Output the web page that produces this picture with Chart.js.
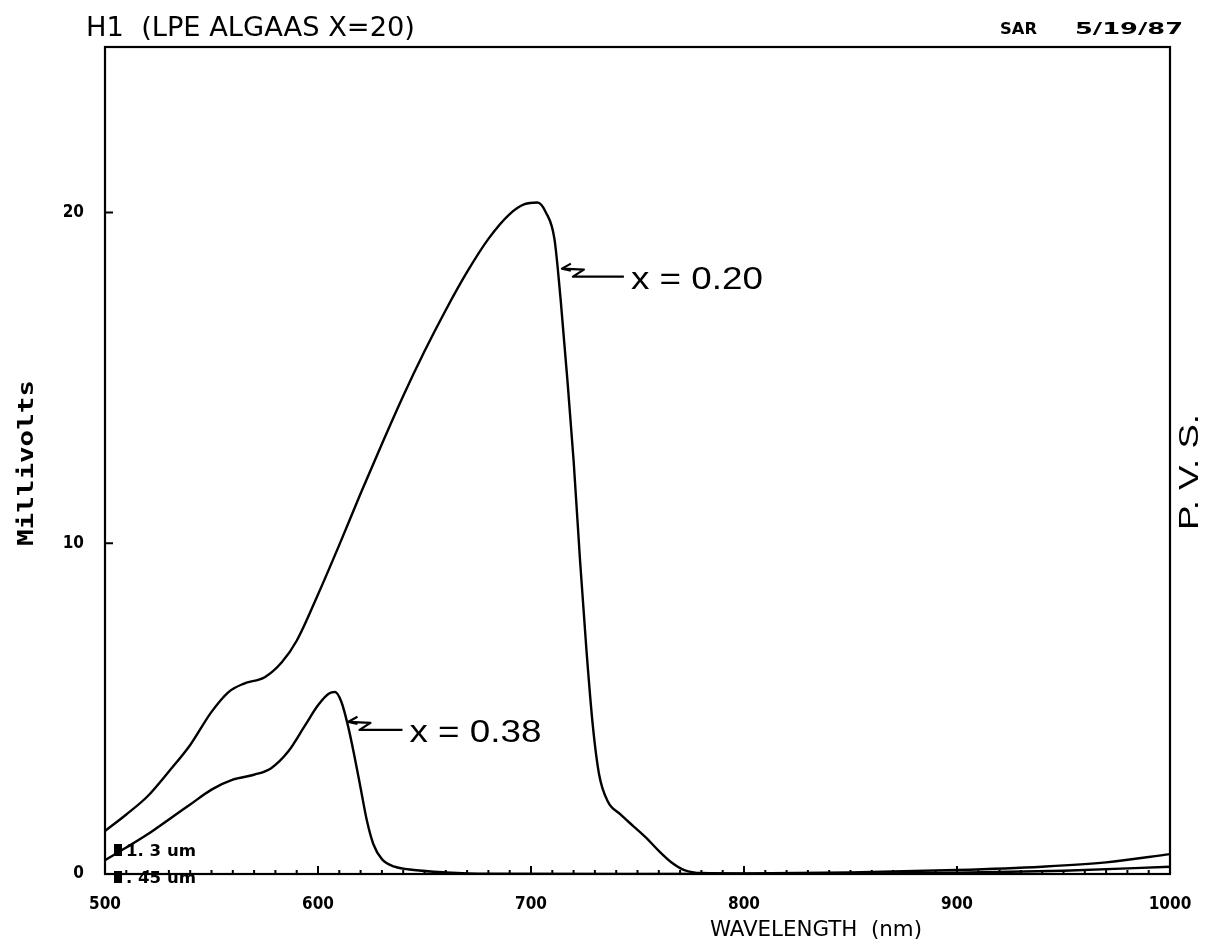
<!DOCTYPE html>
<html>
<head>
<meta charset="utf-8">
<title>H1 (LPE ALGAAS X=20)</title>
<script src="https://cdn.jsdelivr.net/npm/chart.js@4.4.1/dist/chart.umd.min.js"></script>
<style>
  body { margin: 0; background: #fff; }
  canvas { display: block; }
</style>
</head>
<body>
<canvas id="pvsChart" width="1205" height="946"></canvas>
<script>
// photovoltage spectra, x = 0.20 sample
const wavelengths020 = [500, 510, 520, 530, 540, 550, 558, 565, 575, 583, 590, 600, 610, 620, 630, 640, 650, 660, 670, 680, 690, 697, 703, 707, 711, 714, 717, 720, 723, 726, 729, 732, 736, 742, 748, 754, 760, 766, 772, 780, 800, 850, 900, 940, 970, 1000];
const millivolts020 = [1.3, 1.8, 2.35, 3.1, 3.9, 4.9, 5.5, 5.75, 5.95, 6.4, 7.05, 8.45, 9.95, 11.5, 13.0, 14.45, 15.8, 17.05, 18.2, 19.2, 19.95, 20.25, 20.3, 20.0, 19.2, 17.3, 15.0, 12.5, 9.5, 6.8, 4.5, 3.0, 2.2, 1.8, 1.45, 1.1, 0.7, 0.35, 0.12, 0.03, 0.02, 0.05, 0.12, 0.22, 0.35, 0.6];

// x = 0.38 sample
const wavelengths038 = [500, 510, 520, 530, 540, 550, 560, 570, 578, 586, 594, 600, 605, 608, 611, 614, 617, 620, 623, 626, 630, 636, 645, 660, 680, 750, 850, 900, 950, 1000];
const millivolts038 = [0.42, 0.8, 1.2, 1.65, 2.1, 2.55, 2.85, 3.0, 3.2, 3.7, 4.5, 5.1, 5.45, 5.5, 5.2, 4.5, 3.6, 2.6, 1.6, 0.9, 0.45, 0.22, 0.12, 0.05, 0.01, 0, 0.01, 0.04, 0.1, 0.22];

const seriesLabels = ['x = 0.20', 'x = 0.38'];
const keyLabels = ['1. 3 um', '. 45 um'];
const xTicks = [500, 600, 700, 800, 900, 1000];
const yTicks = [0, 10, 20];

const toPoints = (xs, ys) => xs.map((x, i) => ({ x: x, y: ys[i] }));

const plotFont = "'DejaVu Sans Condensed', 'Liberation Sans Narrow', 'DejaVu Sans', sans-serif";

// text squeezed to a given width, like the plotter lettering
function fitText(ctx, text, x, y, width, font, align) {
  ctx.save();
  ctx.font = font;
  let w = ctx.measureText(text).width;
  ctx.translate(x, y);
  ctx.scale(width / w, 1);
  ctx.textAlign = align || 'left';
  ctx.fillText(text, 0, 0);
  ctx.restore();
}

// same, turned to run up the page
function fitTextUp(ctx, text, cx, cy, length, font) {
  ctx.save();
  ctx.translate(cx, cy);
  ctx.rotate(-Math.PI / 2);
  fitText(ctx, text, -length / 2, 0, length, font);
  ctx.restore();
}

// squiggly arrow from a label back to its curve
function squiggle(ctx, tipX, tipY, len) {
  ctx.save();
  ctx.strokeStyle = '#000';
  ctx.lineWidth = 2.2;
  ctx.lineJoin = 'round';
  ctx.beginPath();
  ctx.moveTo(tipX + 9, tipY - 5);
  ctx.lineTo(tipX, tipY);
  ctx.lineTo(tipX + 9, tipY + 2);
  ctx.moveTo(tipX, tipY);
  ctx.lineTo(tipX + 22, tipY + 1);
  ctx.lineTo(tipX + 11, tipY + 8);
  ctx.lineTo(tipX + 28, tipY + 8);
  ctx.lineTo(tipX + len, tipY + 8);
  ctx.stroke();
  ctx.restore();
}

const framePlugin = {
  id: 'frame',
  afterDraw(chart) {
    const ctx = chart.ctx;
    const a = chart.chartArea;
    const xs = chart.scales.x;
    const ys = chart.scales.y;
    ctx.save();
    ctx.strokeStyle = '#000';
    ctx.fillStyle = '#000';
    ctx.lineWidth = 2.2;
    ctx.strokeRect(a.left, a.top, a.right - a.left, a.bottom - a.top);

    // inward ticks along both axes
    ctx.lineWidth = 2;
    ctx.beginPath();
    for (let v = 500; v <= 1000; v += 10) {
      let px = xs.getPixelForValue(v);
      let len = v % 100 === 0 ? 8 : 4;
      ctx.moveTo(px, a.bottom);
      ctx.lineTo(px, a.bottom - len);
    }
    yTicks.forEach(v => {
      let py = ys.getPixelForValue(v);
      ctx.moveTo(a.left, py);
      ctx.lineTo(a.left + 8, py);
    });
    ctx.stroke();

    // heading
    fitText(ctx, 'H1  (LPE ALGAAS X=20)', 86, 36, 329, '27px ' + plotFont);
    fitText(ctx, 'SAR', 1000, 34, 37, 'bold 16px ' + plotFont);
    fitText(ctx, '5/19/87', 1075, 34, 108, 'bold 16px ' + plotFont);

    // axis titles
    fitText(ctx, 'WAVELENGTH  (nm)', 710, 936, 212, '22px ' + plotFont);
    fitTextUp(ctx, 'Millivolts', 33, 463, 166, "bold 21px 'DejaVu Sans Mono', monospace");
    fitTextUp(ctx, 'P. V. S.', 1198, 472, 116, "28px 'Liberation Sans', Arial, sans-serif");

    // small key in the lower left corner
    keyLabels.forEach((t, i) => {
      let y = 856 + i * 27;
      ctx.fillRect(a.left + 9, y - 12, 8, 12);
      fitText(ctx, t, a.left + 21, y, 70, 'bold 15px ' + plotFont);
    });

    // curve labels with arrows
    const notes = [
      { text: seriesLabels[0], x: 714.5, y: 18.3, len: 62 },
      { text: seriesLabels[1], x: 614.3, y: 4.6, len: 54 }
    ];
    notes.forEach(n => {
      let tipX = xs.getPixelForValue(n.x);
      let tipY = ys.getPixelForValue(n.y);
      squiggle(ctx, tipX, tipY, n.len);
      ctx.textBaseline = 'middle';
      fitText(ctx, n.text, tipX + n.len + 7, tipY + 12, 132, "31px 'Liberation Sans', Arial, sans-serif");
      ctx.textBaseline = 'alphabetic';
    });
    ctx.restore();
  }
};

new Chart(document.getElementById('pvsChart'), {
  type: 'line',
  data: {
    datasets: [
      {
        label: seriesLabels[0],
        data: toPoints(wavelengths020, millivolts020),
        borderColor: '#000',
        borderWidth: 2.4,
        pointRadius: 0,
        cubicInterpolationMode: 'monotone',
        fill: false
      },
      {
        label: seriesLabels[1],
        data: toPoints(wavelengths038, millivolts038),
        borderColor: '#000',
        borderWidth: 2.4,
        pointRadius: 0,
        cubicInterpolationMode: 'monotone',
        fill: false
      }
    ]
  },
  options: {
    responsive: false,
    animation: false,
    devicePixelRatio: 1,
    layout: { padding: { left: 0, top: 47, right: 35, bottom: 0 } },
    plugins: { legend: { display: false }, tooltip: { enabled: false } },
    scales: {
      x: {
        type: 'linear',
        min: 500,
        max: 1000,
        grid: { display: false },
        border: { display: false },
        afterFit: s => { s.height = 72; },
        afterBuildTicks: s => { s.ticks = xTicks.map(v => ({ value: v })); },
        ticks: {
          color: '#000',
          padding: 12,
          maxRotation: 0,
          autoSkip: false,
          callback: v => String(v),
          font: { family: plotFont, size: 17, weight: 'bold' }
        }
      },
      y: {
        min: 0,
        max: 25,
        grid: { display: false },
        border: { display: false },
        afterFit: s => { s.width = 105; },
        afterBuildTicks: s => { s.ticks = yTicks.map(v => ({ value: v })); },
        ticks: {
          color: '#000',
          padding: 13,
          callback: v => String(v),
          font: { family: plotFont, size: 17, weight: 'bold' }
        }
      }
    }
  },
  plugins: [framePlugin]
});
</script>
</body>
</html>
